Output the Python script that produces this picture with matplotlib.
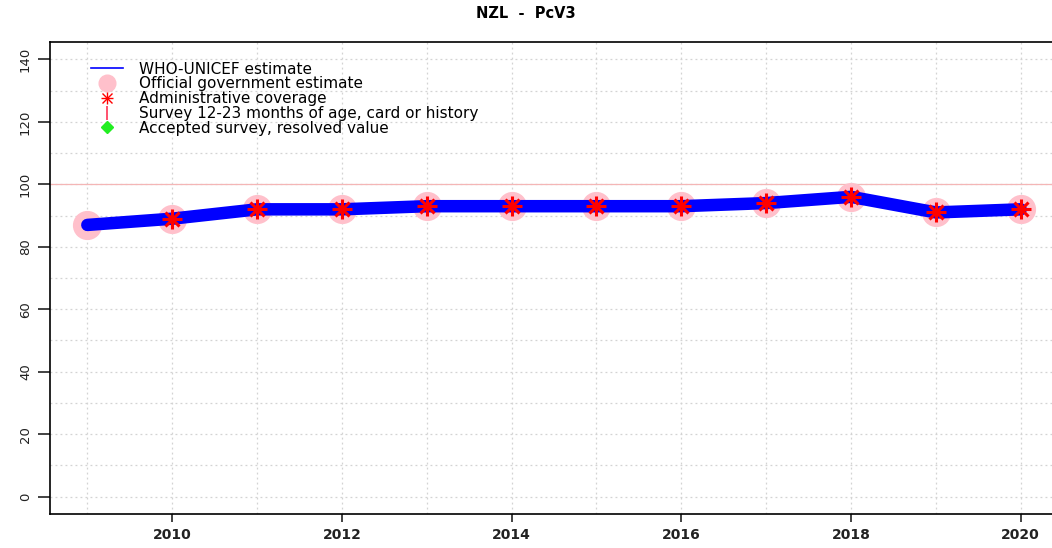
import matplotlib
matplotlib.use("Agg")
import matplotlib.pyplot as plt
from matplotlib.lines import Line2D
from matplotlib.legend_handler import HandlerTuple

plt.rcParams['font.family'] = ['DejaVu Sans']

years = [2009, 2010, 2011, 2012, 2013, 2014, 2015, 2016, 2017, 2018, 2019, 2020]
wuenic = [87, 89, 92, 92, 93, 93, 93, 93, 94, 96, 91, 92]
gov_estimate = [87, 89, 92, 92, 93, 93, 93, 93, 94, 96, 91, 92]
admin_years = [2010, 2011, 2012, 2013, 2014, 2015, 2016, 2017, 2018, 2019, 2020]
admin = [89, 92, 92, 93, 93, 93, 93, 94, 96, 91, 92]

fig = plt.figure(figsize=(10.52, 5.48), dpi=100)
ax = fig.add_axes([50 / 1052, 34 / 548, 1008 / 1052, 472 / 548])

ax.set_xlim(2008.56, 2020.44)
ax.set_ylim(-5.6, 145.6)

# grid like R's grid(): dotted light gray
for yr in range(2009, 2021):
    ax.axvline(yr, color='#d3d3d3', linestyle=(0, (1.5, 2.5)), linewidth=0.9, zorder=0)
for v in range(0, 150, 10):
    ax.axhline(v, color='#d3d3d3', linestyle=(0, (1.5, 2.5)), linewidth=0.9, zorder=0)
ax.axhline(100, color='#f4b6b6', linewidth=0.9, zorder=0)

ax.plot(years, gov_estimate, linestyle='none', marker='o', markersize=20,
        color='pink', zorder=2)
ax.plot(years, wuenic, color='blue', linewidth=9, solid_capstyle='round', zorder=3)
ax.plot(admin_years, admin, linestyle='none', marker='+', markersize=14,
        markeredgewidth=2.2, color='red', zorder=4)
ax.plot(admin_years, admin, linestyle='none', marker='x', markersize=10,
        markeredgewidth=2.2, color='red', zorder=4)

ax.set_xticks(range(2010, 2021, 2))
ax.set_yticks(range(0, 141, 20))
ax.tick_params(axis='x', labelsize=10, length=6, width=1.2, pad=4, colors='#222222')
ax.tick_params(axis='y', labelsize=9.5, length=9, width=1.2, pad=4, colors='#222222')
for lab in ax.get_xticklabels():
    lab.set_fontweight('bold')
for lab in ax.get_yticklabels():
    lab.set_rotation(90)
    lab.set_va('center')
for s in ax.spines.values():
    s.set_linewidth(1.2)

fig.text(0.5, 1 - 13 / 548, 'NZL  -  PcV3', ha='center', va='center',
         fontsize=10.5, fontweight='bold')

handles = [
    Line2D([], [], color='blue', linewidth=1.2),
    Line2D([], [], linestyle='none', marker='o', markersize=12, color='pink'),
    (Line2D([], [], linestyle='none', marker='+', markersize=9, markeredgewidth=1, color='red'),
     Line2D([], [], linestyle='none', marker='x', markersize=6.5, markeredgewidth=1, color='red')),
    Line2D([], [], linestyle='none', marker='|', markersize=10, markeredgewidth=1.2, color='#ff3355'),
    Line2D([], [], linestyle='none', marker='D', markersize=6, color='#22ee22'),
]
labels = ['WHO-UNICEF estimate', 'Official government estimate', 'Administrative coverage',
          'Survey 12-23 months of age, card or history', 'Accepted survey, resolved value']
ax.legend(handles, labels, loc='upper left', bbox_to_anchor=(0.035, 0.971), frameon=False,
          fontsize=11, handlelength=2.1, handletextpad=1.0, labelspacing=-0.02,
          borderaxespad=0, handler_map={tuple: HandlerTuple(ndivide=1)})

fig.savefig('out.png', dpi=100)
